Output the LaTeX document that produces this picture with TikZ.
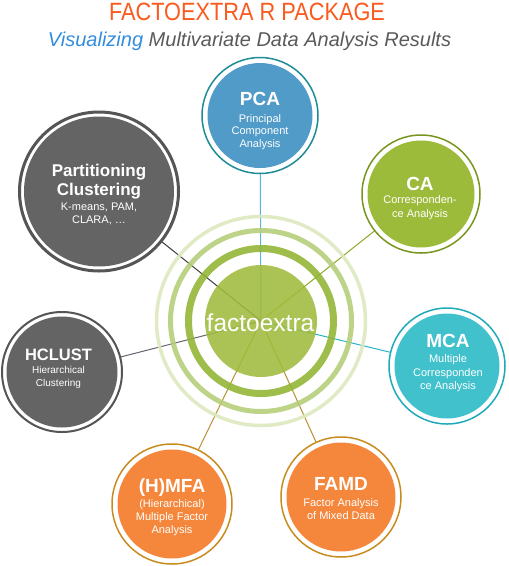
\documentclass[tikz,border=0pt]{standalone}
\usepackage{fontspec}
\setmainfont{Liberation Sans}
\newfontfamily\titlefont[FakeStretch=0.87]{Liberation Sans}
\definecolor{torange}{RGB}{250,90,30}
\definecolor{vblue}{RGB}{50,140,220}
\definecolor{sgray}{RGB}{90,90,90}
\definecolor{pcafill}{RGB}{80,155,200}
\definecolor{pcaring}{RGB}{30,140,150}
\definecolor{pcaline}{RGB}{90,180,225}
\definecolor{cafill}{RGB}{157,187,58}
\definecolor{caring}{RGB}{120,150,30}
\definecolor{caline}{RGB}{140,170,40}
\definecolor{mcafill}{RGB}{65,193,204}
\definecolor{mcaring}{RGB}{30,170,185}
\definecolor{mcaline}{RGB}{40,180,200}
\definecolor{orfill}{RGB}{245,135,60}
\definecolor{orring}{RGB}{200,140,30}
\definecolor{orline}{RGB}{185,145,50}
\definecolor{gyfill}{RGB}{100,100,100}
\definecolor{gyring}{RGB}{85,85,85}
\definecolor{hcline}{RGB}{100,100,110}
\definecolor{ptline}{RGB}{60,60,60}
\definecolor{cdisk}{RGB}{158,187,60}
\definecolor{cring1}{RGB}{145,180,50}
\definecolor{cring2}{RGB}{180,205,120}
\definecolor{cring3}{RGB}{220,232,190}
\begin{document}
\begin{tikzpicture}[x=1pt,y=-1pt,
  sat/.style={circle,draw=#1,line width=1.5pt,fill=white,inner sep=0pt},
  ttl/.style={anchor=base,text=white,inner sep=0pt,font=\bfseries\fontsize{19}{19}\selectfont},
  sttl/.style={anchor=base,text=white,inner sep=0pt,font=\bfseries\fontsize{16.5}{16.5}\selectfont},
  sub/.style={anchor=base,text=white,inner sep=0pt,font=\fontsize{11}{11}\selectfont},
  ssub/.style={anchor=base,text=white,inner sep=0pt,font=\fontsize{10}{10}\selectfont},
  conn/.style={line width=1pt}]
\useasboundingbox (0,0) rectangle (509,566);
% title
\node[anchor=base,inner sep=0pt,text=torange,font=\titlefont\fontsize{25}{25}\selectfont] (title) at (247,20.7) {FACTOEXTRA R PACKAGE};
\node[anchor=base,inner sep=0pt,text=sgray,font=\itshape\fontsize{20}{20}\selectfont] (subtitle) at (249.5,46.7) {{\color{vblue}Visualizing} Multivariate Data Analysis Results};
% centres
\coordinate (c) at (261,321);
\coordinate (pcaC) at (260,115.5);
\coordinate (caC) at (421,194);
\coordinate (mcaC) at (447,366);
\coordinate (famdC) at (341,497);
\coordinate (hmfaC) at (172,504);
\coordinate (hcC) at (62,372);
\coordinate (ptC) at (99,191.5);
% connectors
\draw[conn,pcaline] (c) -- (pcaC);
\draw[conn,caline] (c) -- (caC);
\draw[conn,mcaline] (c) -- (mcaC);
\draw[conn,orline] (c) -- (famdC);
\draw[conn,orline] (c) -- (hmfaC);
\draw[conn,hcline] (c) -- (hcC);
\draw[conn,ptline] (c) -- (ptC);
% central hub
\begin{scope}[opacity=0.88]
\draw[cring3,line width=3.5pt] (c) circle (104.5);
\draw[cring2,line width=5pt] (c) circle (90.5);
\draw[cring1,line width=7pt] (c) circle (72.5);
\fill[cdisk] (c) circle (56);
\end{scope}
\node[anchor=base,inner sep=0pt,text=white,font=\fontsize{24.5}{24.5}\selectfont] (hub) at (260.5,331.5) {factoextra};
% satellites
\node[sat=pcaring,minimum size=116pt] (pca) at (pcaC) {};
\fill[pcafill] (pca.center) circle (52.5);
\node[sat=caring,minimum size=118pt] (ca) at (caC) {};
\fill[cafill] (ca.center) circle (53.5);
\node[sat=mcaring,minimum size=116pt] (mca) at (mcaC) {};
\fill[mcafill] (mca.center) circle (52.5);
\node[sat=orring,minimum size=120pt] (famd) at (famdC) {};
\fill[orfill] (famd.center) circle (54.5);
\node[sat=orring,minimum size=120pt] (hmfa) at (hmfaC) {};
\fill[orfill] (hmfa.center) circle (54.5);
\node[sat=gyring,line width=2pt,minimum size=120pt] (hc) at (hcC) {};
\fill[gyfill] (hc.center) circle (55.5);
\node[sat=gyring,line width=3pt,minimum size=159pt] (pt) at (ptC) {};
\fill[gyfill] (pt.center) circle (75);
% labels
\node[ttl] (pcaT) at (260,105) {PCA};
\node[sub] (pca1) at (260,122) {Principal};
\node[sub] (pca2) at (260,134.5) {Component};
\node[sub] (pca3) at (260,147) {Analysis};
\node[ttl] (caT) at (420,190) {CA};
\node[sub] (ca1) at (420,203.5) {Corresponden-};
\node[sub] (ca2) at (420,217) {ce Analysis};
\node[ttl] (mcaT) at (448,347) {MCA};
\node[sub] (mca1) at (448,362.5) {Multiple};
\node[sub] (mca2) at (448,376.5) {Corresponden};
\node[sub] (mca3) at (448,389.5) {ce Analysis};
\node[sttl] (hcT) at (58.5,360.7) {HCLUST};
\node[ssub] (hc1) at (58.5,373.5) {Hierarchical};
\node[ssub] (hc2) at (58.5,386.5) {Clustering};
\node[anchor=base,text=white,inner sep=0pt,font=\bfseries\fontsize{17}{17}\selectfont] (ptT1) at (99,176) {Partitioning};
\node[anchor=base,text=white,inner sep=0pt,font=\bfseries\fontsize{17}{17}\selectfont] (ptT2) at (99,195) {Clustering};
\node[sub] (pt1) at (99,210) {K-means, PAM,};
\node[sub] (pt2) at (99,223) {CLARA, …};
\node[ttl] (hmfaT) at (172,492.7) {(H)MFA};
\node[sub] (hmfa1) at (172,507.3) {(Hierarchical)};
\node[sub] (hmfa2) at (172,520.7) {Multiple Factor};
\node[sub] (hmfa3) at (172,533.3) {Analysis};
\node[ttl] (famdT) at (341,490.7) {FAMD};
\node[sub] (famd1) at (341,506) {Factor Analysis};
\node[sub] (famd2) at (341,519.3) {of Mixed Data};
\end{tikzpicture}
\end{document}
